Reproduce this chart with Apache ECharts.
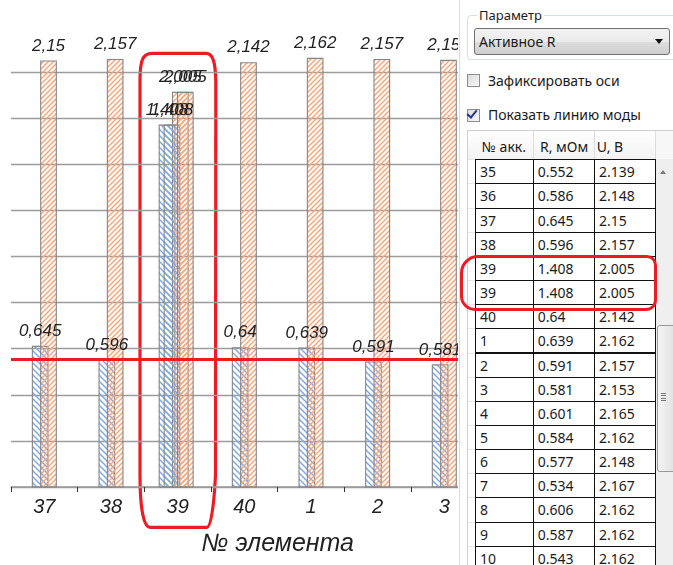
<!DOCTYPE html>
<html><head><meta charset="utf-8">
<script src="https://cdn.jsdelivr.net/npm/echarts@6/dist/echarts.min.js"></script>
<style>
html,body{margin:0;padding:0;width:673px;height:565px;overflow:hidden;background:#fff;font-family:"Noto Sans",sans-serif;}
#chart{position:absolute;left:0;top:0;width:673px;height:565px;}
#panel{position:absolute;left:458px;top:0;width:215px;height:565px;background:#fff;overflow:hidden;color:#1b1b1b;}
.abs{position:absolute;box-sizing:border-box;}
#sep{left:1px;top:0;width:1px;height:565px;background:#dcdcdc;}
#group{left:8.5px;top:15px;width:230px;height:45px;border:1px solid #d5dfe5;border-radius:4px;}
#gtitle{left:19px;top:7px;font-size:13px;line-height:17px;padding:0 2px;background:#fff;}
#combo{left:16px;top:28px;width:196px;height:27px;border:1px solid #707070;border-radius:3px;
 background:linear-gradient(#f2f2f2,#ebebeb 50%,#dddddd 51%,#cfcfcf);font-size:14px;line-height:25px;padding-left:4px;}
#arrow{left:197px;top:39px;width:0;height:0;border-left:4px solid transparent;border-right:4px solid transparent;border-top:5px solid #111;}
.cb{width:13px;height:13px;border:1px solid #8e8f8f;background:linear-gradient(135deg,#dcdcdc,#f7f7f7);}
.cbl{font-size:14px;line-height:18px;}
#check{left:11px;top:108px;width:6px;height:10px;border-right:2.5px solid #2a3590;border-bottom:2.5px solid #2a3590;transform:rotate(40deg);}
.cell{position:absolute;box-sizing:border-box;border:1px solid #111;font-size:14px;padding-left:4px;white-space:nowrap;}
.hdr{position:absolute;font-size:14px;white-space:nowrap;}
#redbox{left:2px;top:254.5px;width:196.5px;height:56.5px;border:3px solid #ec1c24;border-radius:18px 10px 11px 15px;}
</style></head><body>
<div id="chart"></div>
<div id="panel">
  <div class="abs" id="sep"></div>
  <div class="abs" id="group"></div>
  <div class="abs" id="gtitle">Параметр</div>
  <div class="abs" id="combo">Активное R</div>
  <div class="abs" id="arrow"></div>
  <div class="abs cb" style="left:9px;top:74px;"></div>
  <div class="abs cbl" style="left:30px;top:71.5px;">Зафиксировать оси</div>
  <div class="abs cb" style="left:9px;top:108.5px;"></div>
  <div class="abs" id="check"></div>
  <div class="abs cbl" style="left:30px;top:106px;">Показать линию моды</div>
  <div id="table"></div>
  <div class="abs" id="redbox"></div>
</div>
<script>
// ---- chart data ----
const elements = ['37', '38', '39', '39', '40', '1', '2', '3', '4'];
const resistance = [0.645, 0.596, 1.408, 1.408, 0.64, 0.639, 0.591, 0.581, 0.601];
const voltage = [2.15, 2.157, 2.005, 2.005, 2.142, 2.162, 2.157, 2.153, 2.165];
const modeValue = 0.604;
const axisTitle = '№ элемента';

// ---- table data ----
const tableHeaders = ['№ акк.', 'R, мОм', 'U, В'];
const tableNo = ['35','36','37','38','39','39','40','1','2','3','4','5','6','7','8','9','10'];
const tableR = ['0.552','0.586','0.645','0.596','1.408','1.408','0.64','0.639','0.591','0.581','0.601','0.584','0.577','0.534','0.606','0.587','0.543'];
const tableU = ['2.139','2.148','2.15','2.157','2.005','2.005','2.142','2.162','2.157','2.153','2.165','2.162','2.148','2.167','2.162','2.162','2.162'];

// ---- build table ----
(function(){
  const t = document.getElementById('table');
  const colX = [17, 74.7, 136, 197];
  const hdrX = [23.7, 82, 138.7];
  const top0 = 159.3, rh = 24.15;
  let html = '';
  html += '<div class="abs" style="left:8.5px;top:130px;width:220px;height:440px;border-left:1px solid #cfcfcf;border-top:1px solid #cfcfcf;"></div>';
  html += '<div class="abs" style="left:9.5px;top:131px;width:190px;height:28.3px;background:linear-gradient(#ffffff,#f3f3f3);"></div>';
  html += '<div class="abs" style="left:197px;top:131px;width:20px;height:28.3px;background:#f7f7f7;"></div>';
  [74.7,136,197].forEach(x => { html += '<div class="abs" style="left:'+x+'px;top:131px;width:1px;height:28.3px;background:#dcdcdc;"></div>'; });
  tableHeaders.forEach((h,i) => { html += '<div class="hdr" style="left:'+hdrX[i]+'px;top:136.5px;line-height:20px;">'+h+'</div>'; });
  for (let i = 0; i < tableNo.length; i++) {
    const y = top0 + i*rh;
    html += '<div class="abs" style="left:9.5px;top:'+y+'px;width:8px;height:1px;background:#e6e6e6;"></div>';
    const vals = [tableNo[i], tableR[i], tableU[i]];
    for (let c = 0; c < 3; c++) {
      html += '<div class="cell" style="left:'+colX[c]+'px;top:'+y+'px;width:'+(colX[c+1]-colX[c]+1)+'px;height:'+(rh+1)+'px;line-height:'+(rh-1)+'px;">'+vals[c]+'</div>';
    }
  }
  html += '<div class="abs" style="left:197.5px;top:159.3px;width:20px;height:410px;background:#efefef;"></div>';
  html += '<div class="abs" style="left:202px;top:170px;width:0;height:0;border-left:3.5px solid transparent;border-right:3.5px solid transparent;border-bottom:4px solid #7a7a7a;"></div>';
  html += '<div class="abs" style="left:199.3px;top:325px;width:22px;height:146.7px;border:1px solid #9a9a9a;border-radius:3px;background:linear-gradient(to right,#f4f4f4,#dedede);"></div>';
  [392.5,395,397.5,400].forEach(y => { html += '<div class="abs" style="left:202.7px;top:'+y+'px;width:5px;height:1px;background:#777;"></div>'; });
  t.innerHTML = html;
})();

// ---- chart ----
const categories = [...new Set(elements)];
function layerData(values, layer) {
  return categories.map(c => {
    const idx = [];
    elements.forEach((e, i) => { if (e === c) idx.push(i); });
    if (layer === 0) return idx.length === 1 ? values[idx[0]] : '-';
    return (idx.length > 1 && idx[layer-1] !== undefined) ? values[idx[layer-1]] : '-';
  });
}
function hatch(color, size, dir) {
  const c = document.createElement('canvas');
  c.width = size; c.height = size;
  const g = c.getContext('2d');
  g.strokeStyle = color; g.lineWidth = 1.5;
  g.beginPath();
  if (dir > 0) {
    g.moveTo(0, size); g.lineTo(size, 0);
    g.moveTo(-1, 1); g.lineTo(1, -1);
    g.moveTo(size-1, size+1); g.lineTo(size+1, size-1);
  } else {
    g.moveTo(0, 0); g.lineTo(size, size);
    g.moveTo(-1, size-1); g.lineTo(1, size+1);
    g.moveTo(size-1, -1); g.lineTo(size+1, 1);
  }
  g.stroke();
  return c;
}
const bluePat = {image: hatch('#7fa9ea', 6, -1), repeat: 'repeat'};
const orangePat = {image: hatch('#f8a77c', 5, 1), repeat: 'repeat'};
const border = '#858585';
const labelFmt = p => String(p.value).replace('.', ',');
const barLabel = {show: true, position: 'top', distance: 6, formatter: labelFmt, fontSize: 17, fontStyle: 'italic', color: '#222', fontFamily: 'Liberation Sans'};

const gridBox = {top: 26, width: 533.3, height: 461};
const rAxis = {type: 'value', min: 0.158, max: 1.748, show: false};
const uAxis = {type: 'value', min: 0.181, max: 2.309, show: false};

function barSeries(name, values, layer, xi, yi, pat, gap, extra) {
  return Object.assign({
    name: name, type: 'bar', xAxisIndex: xi, yAxisIndex: yi,
    data: layerData(values, layer), barWidth: 16.7, barGap: gap,
    itemStyle: {color: pat, borderColor: border, borderWidth: 1.1},
    label: barLabel, animation: false, clip: true
  }, extra || {});
}

const chart = echarts.init(document.getElementById('chart'), null, {renderer: 'canvas'});
const red = '#ec1c24';
const lw = 3.2;
chart.setOption({
  animation: false,
  grid: [
    Object.assign({left: 11}, gridBox),
    Object.assign({left: 7}, gridBox),
    Object.assign({left: 12}, gridBox)
  ],
  xAxis: [
    {gridIndex: 0, type: 'category', data: categories,
     axisLine: {lineStyle: {color: '#9a9a9a', width: 1.5}},
     axisTick: {show: true, length: 5, lineStyle: {color: '#333'}},
     axisLabel: {fontSize: 20, fontStyle: 'italic', color: '#222', margin: 10, fontFamily: 'Liberation Sans'},
     name: axisTitle, nameLocation: 'middle', nameGap: 45,
     nameTextStyle: {fontSize: 25, fontStyle: 'italic', color: '#222', fontFamily: 'Liberation Sans'}},
    {gridIndex: 1, type: 'category', data: categories, show: false},
    {gridIndex: 2, type: 'category', data: categories, show: false}
  ],
  yAxis: [
    {gridIndex: 0, type: 'value', min: 0, max: 10, interval: 1,
     axisLine: {show: false}, axisTick: {show: false}, axisLabel: {show: false},
     splitLine: {show: true, showMaxLine: false, lineStyle: {color: '#9c9c9c', width: 1.3}}},
    Object.assign({gridIndex: 0}, rAxis), Object.assign({gridIndex: 0}, uAxis),
    Object.assign({gridIndex: 1}, rAxis), Object.assign({gridIndex: 1}, uAxis),
    Object.assign({gridIndex: 2}, rAxis), Object.assign({gridIndex: 2}, uAxis)
  ],
  series: [
    barSeries('R', resistance, 0, 0, 1, bluePat, '-50%', {
      markLine: {silent: true, symbol: ['none', 'none'], label: {show: false},
        lineStyle: {color: red, width: 3, type: 'solid'}, data: [{yAxis: modeValue}], animation: false}
    }),
    barSeries('U', voltage, 0, 0, 2, orangePat, '-50%'),
    barSeries('R', resistance, 1, 1, 3, bluePat, '-20%'),
    barSeries('U', voltage, 1, 1, 4, orangePat, '-20%'),
    barSeries('R', resistance, 2, 2, 5, bluePat, '-20%'),
    barSeries('U', voltage, 2, 2, 6, orangePat, '-20%')
  ],
  graphic: [{
    type: 'group', z: 100, silent: true,
    children: [
      {type: 'line', shape: {x1: 152, y1: 53.3, x2: 206, y2: 53.3}, style: {stroke: red, lineWidth: lw}},
      {type: 'bezierCurve', shape: {x1: 206, y1: 53.3, cpx1: 213, cpy1: 53.3, cpx2: 215.5, cpy2: 62, x2: 215.8, y2: 82}, style: {stroke: red, lineWidth: lw, fill: null}},
      {type: 'line', shape: {x1: 215.8, y1: 82, x2: 215.5, y2: 475}, style: {stroke: red, lineWidth: lw}},
      {type: 'bezierCurve', shape: {x1: 215.5, y1: 475, cpx1: 214, cpy1: 505, cpx2: 211, cpy2: 527.3, x2: 207, y2: 527.3}, style: {stroke: red, lineWidth: lw, fill: null}},
      {type: 'line', shape: {x1: 207, y1: 527.3, x2: 150, y2: 527.3}, style: {stroke: red, lineWidth: lw}},
      {type: 'bezierCurve', shape: {x1: 150, y1: 527.3, cpx1: 143, cpy1: 527.3, cpx2: 140, cpy2: 505, x2: 140, y2: 475}, style: {stroke: red, lineWidth: lw, fill: null}},
      {type: 'line', shape: {x1: 140, y1: 475, x2: 140, y2: 80}, style: {stroke: red, lineWidth: lw}},
      {type: 'bezierCurve', shape: {x1: 140, y1: 80, cpx1: 140, cpy1: 60, cpx2: 143, cpy2: 53.3, x2: 152, y2: 53.3}, style: {stroke: red, lineWidth: lw, fill: null}}
    ]
  }]
});
</script>
</body></html>
